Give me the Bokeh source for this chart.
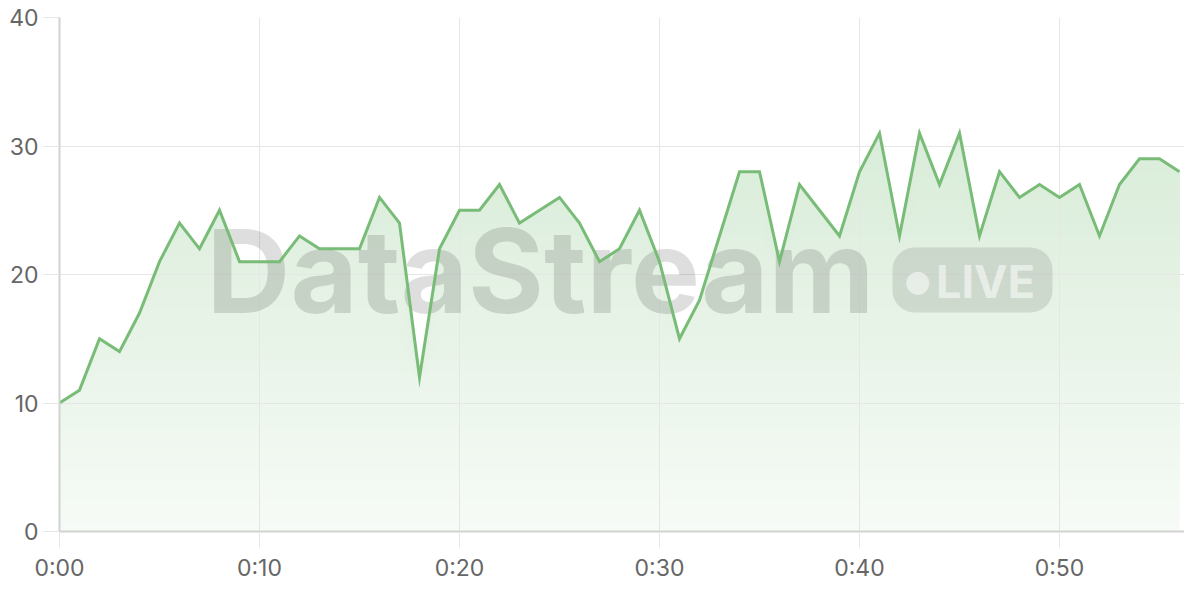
from bokeh.plotting import figure
from bokeh.models import FixedTicker, Range1d, Label, BoxAnnotation
from bokeh.embed import file_html
from bokeh.resources import INLINE
import numpy as np

# ---- data ----
minutes = list(range(57))
values = [10, 11, 15, 14, 17, 21, 24, 22, 25, 21,
          21, 21, 23, 22, 22, 22, 26, 24, 12, 22,
          25, 25, 27, 24, 25, 26, 24, 21, 22, 25,
          21, 15, 18, 23, 28, 28, 21, 27, 25, 23,
          28, 31, 23, 31, 27, 31, 23, 28, 26, 27,
          26, 27, 23, 27, 29, 29, 28]
x_ticks = [0, 10, 20, 30, 40, 50]
x_tick_labels = ["0:00", "0:10", "0:20", "0:30", "0:40", "0:50"]
y_ticks = [0, 10, 20, 30, 40]
watermark_text = "DataStream"
badge_text = "LIVE"

# ---- layout ----
W, H = 1184, 584
BL, BT, BB, BR = 59, 17, 53, 0
PX_PER_MIN = 20.0
X_END = (W - BL - BR) / PX_PER_MIN
Y_END = 40
FRAME_H = H - BT - BB
PX_PER_UNIT = FRAME_H / Y_END
FRAME_BOTTOM = H - BB

def px_x(px):
    return (px - BL) / PX_PER_MIN

def px_y(py):
    return (FRAME_BOTTOM - py) / PX_PER_UNIT

LINE_RGB = (120, 188, 120)
LINE_COLOR = "#%02x%02x%02x" % LINE_RGB
FONT = "Inter"

p = figure(width=W, height=H, output_backend="svg", toolbar_location=None,
           x_range=Range1d(0, X_END), y_range=Range1d(0, Y_END),
           min_border_left=BL, min_border_top=BT, min_border_bottom=BB,
           min_border_right=BR)
p.outline_line_color = None
p.background_fill_color = "white"
p.border_fill_color = "white"

# grid
p.xgrid.ticker = FixedTicker(ticks=x_ticks)
p.ygrid.ticker = FixedTicker(ticks=y_ticks)
for g in (p.xgrid, p.ygrid):
    g.grid_line_color = "#e6e6e6"
    g.grid_line_width = 1

# axes
p.xaxis.ticker = FixedTicker(ticks=x_ticks)
p.xaxis.major_label_overrides = {t: l for t, l in zip(x_ticks, x_tick_labels)}
p.yaxis.ticker = FixedTicker(ticks=y_ticks)
for ax in (p.xaxis, p.yaxis):
    ax.axis_line_color = "#d2d2d2"
    ax.axis_line_width = 2
    ax.major_tick_line_color = "#e6e6e6"
    ax.major_tick_line_width = 1
    ax.major_tick_out = 16
    ax.major_tick_in = 0
    ax.minor_tick_line_color = None
    ax.major_label_text_font = FONT
    ax.major_label_text_font_size = "23px"
    ax.major_label_text_color = "#666666"
p.xaxis.major_label_standoff = 6
p.yaxis.major_label_standoff = 5

# gradient fill: opaque stacked layers, darker toward the top
v = np.array(values, dtype=float)
n_layers = 80
dy = Y_END / n_layers
for k in range(n_layers):
    lo = k * dy
    if lo >= v.max():
        break
    a = 0.065 + 0.007 * (lo + dy / 2)
    rgb = tuple(int(round(255 - a * (255 - c))) for c in LINE_RGB)
    p.varea(x=minutes, y1=np.minimum(v, lo), y2=v,
            fill_color="#%02x%02x%02x" % rgb, fill_alpha=1.0, level="image")

# watermark (above fill and grid, below the line)
box = BoxAnnotation(left=px_x(892), right=px_x(1052), top=px_y(247), bottom=px_y(312),
                    fill_color="black", fill_alpha=0.10, line_alpha=0,
                    border_radius=22, level="underlay")
p.add_layout(box)
wm = Label(x=px_x(540), y=px_y(270), text=watermark_text, text_align="center",
           text_baseline="middle", text_font=FONT, text_font_style="bold",
           text_font_size="116px", text_color="black", text_alpha=0.13, level="underlay")
p.add_layout(wm)
live = Label(x=px_x(985), y=px_y(280.5), text=badge_text, text_align="center",
             text_baseline="middle", text_font=FONT, text_font_style="bold",
             text_font_size="45px", text_color="white", text_alpha=0.55, level="underlay")
p.add_layout(live)
dot = Label(x=px_x(917), y=px_y(280), text="\u25cf", text_align="center",
            text_baseline="middle", text_font="DejaVu Sans",
            text_font_size="30px", text_color="white", text_alpha=0.55, level="underlay")
p.add_layout(dot)

p.line(minutes, values, line_color=LINE_COLOR, line_width=3, line_join="miter")

open("out.html", "w").write(file_html(p, INLINE))
